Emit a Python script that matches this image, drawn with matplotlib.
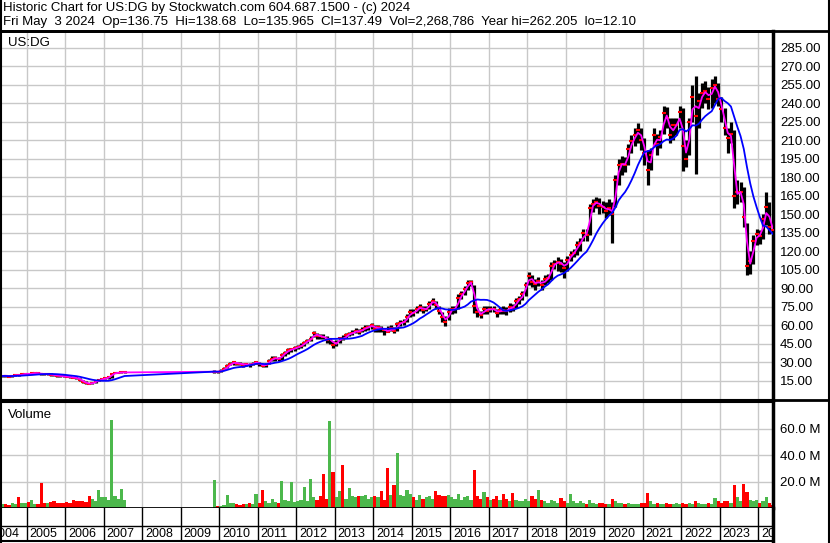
import numpy as np
import pandas as pd
import matplotlib
matplotlib.use('Agg')
import matplotlib.pyplot as plt

plt.rcParams['font.family'] = ['Liberation Sans', 'DejaVu Sans']

####################################################################################
# monthly data

# segment 1: 2004-04 .. 2007-07 (company went private afterwards)
SEG1_START = '2004-04'
seg1_close = [18.6, 19.3, 19.0, 18.4, 19.2, 19.8, 19.4, 20.3, 20.8,
              20.4, 21.0, 21.4, 21.0, 20.6, 20.3, 20.5, 20.0, 19.6, 19.2, 18.9, 18.6,
              18.4, 18.0, 17.6, 17.2, 15.8, 14.2, 13.0, 12.6, 13.4, 14.6, 15.8, 16.5,
              17.2, 17.8, 20.6, 21.4, 21.7, 21.8, 21.9]
seg1_high = [19.5, 20.0, 20.0, 19.5, 19.8, 20.5, 20.2, 21.0, 21.5,
             21.5, 21.8, 22.0, 22.0, 21.5, 21.0, 21.2, 21.0, 20.5, 20.0, 19.8, 19.5,
             19.2, 18.8, 18.5, 18.0, 17.5, 16.0, 14.5, 13.5, 14.2, 15.2, 16.5, 17.0,
             17.8, 18.5, 21.5, 21.8, 22.0, 22.0, 22.1]
seg1_low = [17.8, 18.5, 18.5, 17.8, 18.3, 19.2, 18.8, 19.5, 20.2,
            19.8, 20.2, 20.8, 20.3, 19.8, 19.6, 19.8, 19.3, 18.8, 18.5, 18.2, 18.0,
            17.8, 17.3, 17.0, 16.5, 15.2, 13.5, 12.3, 12.1, 12.5, 13.6, 14.6, 15.8,
            16.4, 16.9, 17.5, 21.0, 21.4, 21.5, 21.6]
seg1_volume = [5, 3, 3, 2.5, 4, 3, 8, 3.5, 4,
               4.5, 6, 3, 3, 19, 4, 3.5, 4.5, 5, 4, 3.5, 4,
               4.5, 3.5, 6, 5, 5.5, 5, 4.5, 9, 6.5, 5, 13.5, 8.5,
               8, 6, 67, 9, 7, 14.5, 6]

# segment 2: 2009-11 (IPO) .. 2024-05
SEG2_START = '2009-11'
seg2_close = [22.5, 22.4,
              23.0, 24.5, 27.0, 29.0, 30.0, 29.0, 28.8, 28.0, 28.5, 28.0, 29.0, 30.5,
              28.5, 27.2, 28.2, 31.0, 33.0, 33.5, 32.5, 36.0, 37.8, 40.0, 40.5, 41.5,
              42.5, 43.5, 46.0, 47.5, 49.0, 53.5, 51.5, 51.0, 50.5, 48.5, 49.0, 44.0,
              46.0, 49.5, 48.8, 52.0, 53.0, 54.0, 55.5, 55.0, 56.5, 58.0, 58.5, 60.3,
              57.0, 58.5, 57.0, 56.0, 55.0, 57.5, 55.8, 61.0, 62.0, 63.0, 66.5, 70.5,
              70.0, 73.0, 75.0, 72.5, 73.5, 77.5, 80.0, 76.5, 72.0, 66.5, 63.0, 71.0,
              73.0, 73.5, 82.0, 85.0, 89.5, 94.0, 95.0, 76.0, 70.5, 68.0, 73.5, 72.0,
              73.5, 73.0, 70.0, 72.5, 72.0, 71.5, 75.0, 74.0, 80.0, 81.0, 85.0, 93.0,
              100.0, 95.0, 93.5, 96.0, 93.0, 97.5, 98.0, 108.0, 110.0, 111.5, 110.0, 106.5,
              113.0, 117.0, 119.0, 125.0, 127.0, 135.0, 133.0, 155.0, 158.5, 160.0, 157.0, 156.0,
              153.0, 155.0, 150.0, 178.0, 190.0, 191.0, 190.0, 203.0, 209.0, 214.0, 218.0, 210.0,
              200.0, 186.0, 198.0, 214.0, 207.0, 213.0, 232.0, 228.0, 214.0, 222.0, 222.0, 233.0,
              205.0, 195.0, 225.0, 245.0, 230.0, 242.0, 248.0, 250.0, 243.0, 252.0, 255.0, 243.0,
              235.0, 220.0, 212.0, 215.0, 165.0, 168.0, 168.0, 148.0, 108.0, 112.0, 128.0, 134.0,
              132.0, 146.0, 156.0, 140.0, 137.5]
seg2_high = [23.5, 23.3,
             24.5, 26.5, 28.5, 30.5, 31.5, 30.5, 30.0, 29.5, 29.8, 29.5, 30.5, 31.5,
             30.5, 29.0, 29.5, 32.5, 35.0, 35.0, 34.5, 37.5, 39.5, 41.5, 42.0, 43.0,
             44.0, 45.5, 47.5, 49.0, 51.5, 55.5, 53.5, 53.0, 53.0, 51.0, 49.5, 47.5,
             48.0, 50.0, 52.5, 54.0, 55.0, 56.0, 57.5, 57.0, 58.5, 60.0, 60.5, 62.0,
             60.5, 60.5, 59.5, 58.0, 59.5, 60.0, 58.5, 63.0, 64.5, 65.5, 69.5, 73.0,
             73.0, 75.5, 77.5, 76.0, 76.0, 80.0, 82.0, 80.0, 76.0, 71.0, 67.5, 74.0,
             75.5, 76.0, 85.0, 88.0, 92.0, 96.5, 97.0, 93.0, 74.0, 71.5, 76.0, 75.5,
             76.0, 76.0, 73.5, 75.0, 75.5, 74.5, 78.0, 77.5, 82.0, 84.0, 88.0, 95.5,
             103.0, 101.0, 97.5, 99.0, 97.0, 100.5, 101.5, 111.0, 113.0, 115.5, 114.0, 111.0,
             116.0, 120.0, 122.0, 128.5, 131.0, 138.0, 138.0, 158.0, 162.0, 164.0, 163.0, 161.0,
             160.0, 162.0, 160.0, 182.0, 195.0, 197.0, 196.0, 207.0, 214.0, 220.0, 224.0, 220.0,
             212.0, 202.0, 204.0, 220.0, 215.0, 218.0, 238.0, 237.0, 228.0, 228.0, 228.0, 238.0,
             236.0, 210.0, 228.0, 255.0, 262.0, 248.0, 256.0, 258.0, 253.0, 260.0, 262.0, 256.0,
             245.0, 236.0, 220.0, 225.0, 218.0, 178.0, 176.0, 172.0, 143.0, 120.0, 133.0, 138.0,
             137.0, 150.0, 168.0, 160.0, 142.0]
seg2_low = [21.5, 21.5,
            22.0, 23.5, 25.5, 27.5, 27.5, 27.5, 27.5, 26.5, 27.0, 26.5, 27.5, 29.0,
            27.0, 26.0, 26.5, 29.0, 31.5, 31.5, 31.0, 32.0, 35.5, 37.0, 38.5, 39.5,
            40.5, 42.0, 43.5, 45.5, 47.0, 50.5, 49.0, 49.0, 49.0, 45.5, 45.0, 41.5,
            43.5, 46.0, 48.0, 50.0, 51.0, 52.0, 53.5, 53.0, 54.5, 55.5, 56.5, 57.0,
            54.5, 55.0, 54.5, 52.0, 54.5, 55.5, 53.5, 55.5, 59.5, 60.5, 63.0, 67.0,
            67.5, 70.0, 72.0, 70.0, 71.5, 73.0, 76.5, 73.0, 69.0, 62.5, 59.5, 64.5,
            69.0, 70.0, 73.0, 81.0, 84.5, 89.0, 91.5, 70.0, 67.0, 66.0, 69.0, 69.5,
            70.5, 70.5, 67.0, 69.5, 69.5, 68.5, 71.0, 71.5, 74.0, 77.5, 80.5, 84.0,
            93.0, 91.0, 88.5, 91.5, 89.0, 93.0, 94.0, 97.0, 105.5, 104.0, 103.5, 98.5,
            104.0, 112.0, 115.0, 117.0, 120.0, 128.0, 128.0, 133.0, 152.0, 155.0, 150.0, 151.0,
            147.0, 149.0, 127.0, 156.0, 174.0, 182.0, 184.0, 190.0, 200.0, 205.0, 208.0, 202.0,
            190.0, 174.0, 186.0, 205.0, 198.0, 204.0, 215.0, 220.0, 208.0, 210.0, 214.0, 220.0,
            185.0, 188.0, 198.0, 225.0, 183.0, 220.0, 236.0, 240.0, 235.0, 236.0, 240.0, 238.0,
            225.0, 214.0, 200.0, 208.0, 155.0, 158.0, 160.0, 140.0, 101.0, 102.0, 110.0, 125.0,
            126.0, 130.0, 141.0, 134.0, 135.0]
seg2_volume = [21, 1.5,
               1.5, 2, 10, 4, 3.5, 3, 2.5, 3, 3, 3.5, 3, 11,
               4, 14, 5, 4, 7, 4.5, 4, 20.5, 6, 5, 20, 4.5,
               5, 6, 16, 5, 22, 8, 6, 9, 26, 7, 66, 27.5,
               8, 13, 33, 7, 15, 9, 8, 9, 9, 10, 7, 8,
               9, 8, 13, 6, 30.5, 10, 17.4, 42, 10, 9, 14, 10.6,
               8, 6, 10, 7, 8, 9, 7, 13, 10, 9, 9, 10,
               8, 7, 11, 6, 8, 9, 6, 29, 9, 7, 12, 8,
               6, 7, 9, 6, 11, 7, 5, 11.4, 6, 5, 5.5, 7,
               5, 9.3, 7, 13.6, 6, 5, 4, 6, 5, 4, 7.6, 5,
               4, 11, 5, 4, 5, 4, 3, 6, 4, 3, 4, 3.5,
               3, 3, 7, 5, 4, 4, 3, 4, 3, 3, 3, 4,
               4, 11.6, 5, 3, 4, 3, 3, 4, 3, 3, 3.5, 3,
               4, 3, 4, 3, 5, 4, 3, 3, 4, 3, 7.6, 5,
               4, 5, 5, 4, 17.7, 8, 5, 18.4, 12.4, 6, 5, 6,
               4, 5, 8.6, 4, 2.5]

years = list(range(2004, 2025))
price_ticks = list(range(15, 286, 15))
volume_ticks = [20, 40, 60]

header_line1 = 'Historic Chart for US:DG by Stockwatch.com 604.687.1500 - (c) 2024'
header_line2 = ('Fri May  3 2024  Op=136.75  Hi=138.68  Lo=135.965  Cl=137.49  '
                'Vol=2,268,786  Year hi=262.205  lo=12.10')

####################################################################################

FIG_W, FIG_H = 830, 543
X_LEFT, X_RIGHT = 2004.3065, 2024.384

GRID_RGB = '#C8C8C8'
UP_RGB = '#4CB84C'
DOWN_RGB = '#FF0000'
FAST_MA_RGB = '#FF00FF'
SLOW_MA_RGB = '#0000FF'
FONT_SIZE = 9.5
DATE_FONT_SIZE = 9


def box(x0, y0, x1, y1):
    return [x0 / FIG_W, 1 - y1 / FIG_H, (x1 - x0) / FIG_W, (y1 - y0) / FIG_H]


def month_positions(start, n):
    periods = pd.period_range(start, periods=n, freq='M')
    return np.asarray(periods.year + (periods.month - 0.5) / 12.0, dtype=float)


def year_grid(axes):
    for y in years:
        axes.axvline(y, color=GRID_RGB, linewidth=1.0, zorder=0)


def frame_line(figure, x0, y0, x1, y1, width):
    # coordinates in pixels from the top-left corner
    figure.add_artist(plt.Line2D([x0 / FIG_W, x1 / FIG_W], [1 - y0 / FIG_H, 1 - y1 / FIG_H],
                                 color='black', linewidth=width, transform=figure.transFigure))


segments = [
    (SEG1_START, seg1_close, seg1_high, seg1_low, seg1_volume),
    (SEG2_START, seg2_close, seg2_high, seg2_low, seg2_volume),
]

figure = plt.figure(figsize=(FIG_W / 100, FIG_H / 100), dpi=100, facecolor='white')

ax_p = figure.add_axes(box(0, 31, 773, 400))
ax_v = figure.add_axes(box(0, 402, 773, 508))
ax_d = figure.add_axes(box(0, 508, 773, 541))

ma_x, fast_ma, slow_ma = [], [], []
for start, close, high, low, volume in segments:
    x = month_positions(start, len(close))
    close = np.array(close)
    ax_p.vlines(x, low, high, color='black', linewidth=2.3, zorder=2)
    ax_p.plot(x, close, ls='none', marker='_', color='red', ms=3, mew=1.5, zorder=3)

    series = pd.Series(close)
    ma_x.extend(x)
    fast_ma.extend(series.rolling(2, min_periods=1).mean())
    slow_ma.extend(series.rolling(10, min_periods=1).mean())

    change = np.diff(close, prepend=close[0] - 1)
    colors = [UP_RGB if c >= 0 else DOWN_RGB for c in change]
    ax_v.bar(x, volume, width=1 / 12, color=colors, linewidth=0, zorder=2)

ax_p.plot(ma_x, fast_ma, color=FAST_MA_RGB, linewidth=1.3, zorder=4)
ax_p.plot(ma_x, slow_ma, color=SLOW_MA_RGB, linewidth=1.3, zorder=5)

# price panel
ax_p.set_xlim(X_LEFT, X_RIGHT)
ax_p.set_ylim(-0.5, 298.5)
year_grid(ax_p)
for p in price_ticks:
    ax_p.axhline(p, color=GRID_RGB, linewidth=1.0, zorder=0)
ax_p.yaxis.tick_right()
ax_p.set_yticks(price_ticks)
ax_p.set_yticklabels(['%.2f' % p for p in price_ticks])
ax_p.set_xticks([])
ax_p.text(0.01, 0.985, 'US:DG', transform=ax_p.transAxes, fontsize=FONT_SIZE, va='top')

# volume panel
ax_v.set_xlim(X_LEFT, X_RIGHT)
ax_v.set_ylim(0, 80.5)
year_grid(ax_v)
for v in volume_ticks:
    ax_v.axhline(v, color=GRID_RGB, linewidth=1.0, zorder=0)
ax_v.yaxis.tick_right()
ax_v.set_yticks(volume_ticks)
ax_v.set_yticklabels(['%.1f M' % v for v in volume_ticks])
ax_v.set_xticks([])
ax_v.text(0.01, 0.93, 'Volume', transform=ax_v.transAxes, fontsize=FONT_SIZE, va='top')

# date strip
ax_d.set_xlim(X_LEFT, X_RIGHT)
ax_d.set_ylim(0, 1)
ax_d.set_xticks([])
ax_d.set_yticks([])
ax_d.axhline(0.45, color='black', linewidth=1.0)
for y in years:
    ax_d.axvline(y, color='black', linewidth=1.0)
    ax_d.text(y + 0.07, 0.2, str(y), fontsize=DATE_FONT_SIZE, va='center', ha='left', clip_on=True)

for axes in (ax_p, ax_v, ax_d):
    axes.tick_params(axis='y', length=0, pad=5, labelsize=FONT_SIZE)
    axes.set_facecolor('white')
    for side in ('left', 'top', 'bottom'):
        axes.spines[side].set_linewidth(1.5)
    axes.spines['right'].set_linewidth(2.5)
ax_p.spines['top'].set_linewidth(2.0)
ax_d.spines['top'].set_visible(False)
ax_v.spines['bottom'].set_linewidth(2.0)

# header and outer frame
figure.text(3 / FIG_W, 1 - 2 / FIG_H, header_line1, fontsize=FONT_SIZE, va='top')
figure.text(3 / FIG_W, 1 - 16 / FIG_H, header_line2, fontsize=FONT_SIZE, va='top')
frame_line(figure, 0.5, 0, 0.5, FIG_H, 1.5)
frame_line(figure, FIG_W - 1, 0, FIG_W - 1, FIG_H, 1.5)
frame_line(figure, 0, 30.5, FIG_W, 30.5, 2.0)
frame_line(figure, 0, 400, FIG_W, 400, 2.0)

figure.savefig('out.png', dpi=100)
